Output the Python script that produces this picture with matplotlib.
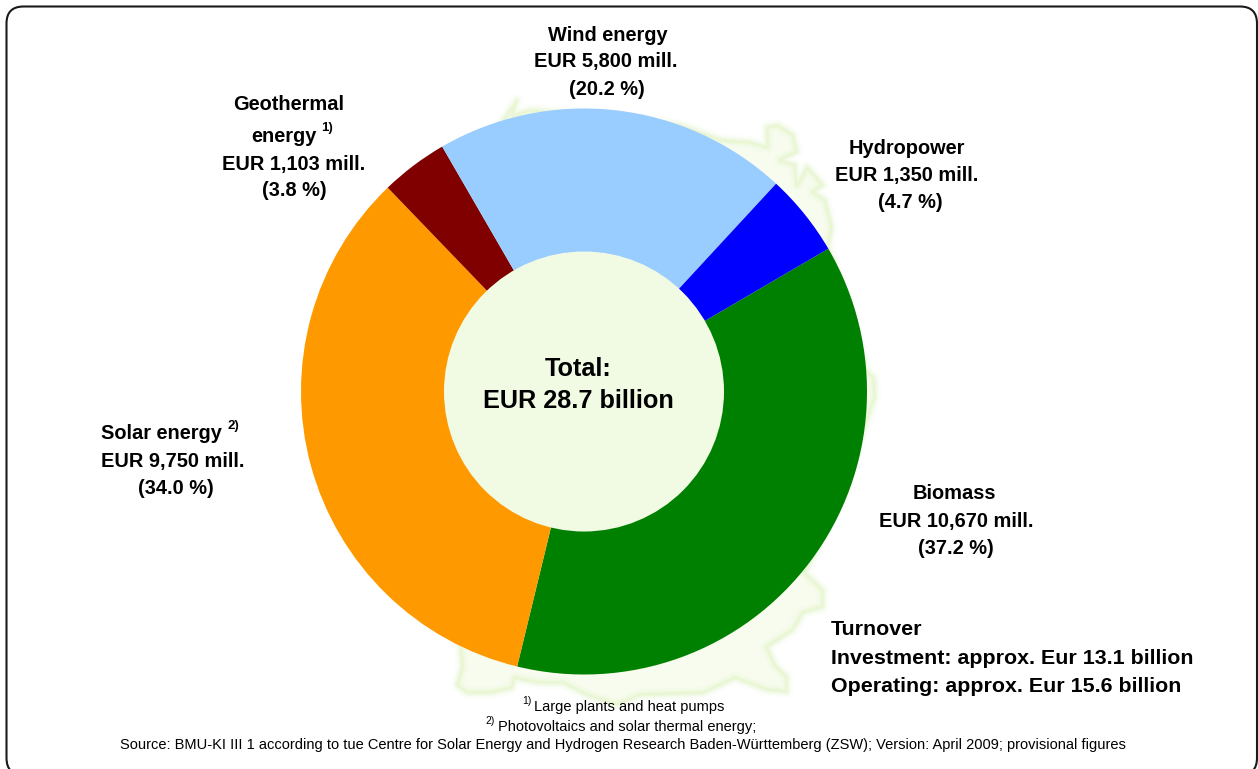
import numpy as np
import matplotlib
matplotlib.use("Agg")
import matplotlib.pyplot as plt
from matplotlib.patches import FancyBboxPatch, Polygon, Circle

plt.rcParams['font.family'] = ['Liberation Sans', 'DejaVu Sans']

W, H = 1258, 769

# turnover by source, EUR mill., clockwise from the biomass slice
sources = ["Biomass", "Solar energy", "Geothermal energy", "Wind energy", "Hydropower"]
turnover = [10670, 9750, 1103, 5800, 1350]
colors = ["#008000", "#FF9900", "#800000", "#99CCFF", "#0000FF"]

percent_text = ["37.2", "34.0", "3.8", "20.2", "4.7"]
amount_text = ["10,670", "9,750", "1,103", "5,800", "1,350"]

total_lines = ["Total:", "EUR 28.7 billion"]
split_lines = ["Turnover",
               "Investment: approx. Eur 13.1 billion",
               "Operating: approx. Eur 15.6 billion"]
note_1 = "Large plants and heat pumps"
note_2 = "Photovoltaics and solar thermal energy;"
source_line = ("Source: BMU-KI III 1 according to tue Centre for Solar Energy and Hydrogen "
               "Research Baden-Württemberg (ZSW); Version: April 2009; provisional figures")

# rough outline of Germany behind the ring
map_outline = [(517, 100), (513, 115), (530, 110), (600, 115), (680, 125), (722, 140), (750, 142),
               (767, 147), (767, 127), (778, 125), (793, 135), (797, 152), (780, 160),
               (795, 165), (797, 185), (807, 167), (823, 185), (813, 192), (825, 200),
               (832, 227), (828, 247), (850, 310), (866, 370), (874, 378), (875, 397), (866, 423),
               (840, 500), (805, 573), (823, 590), (823, 607), (803, 613), (793, 630),
               (767, 647), (775, 665), (787, 677), (787, 692), (767, 690), (735, 678),
               (703, 693), (640, 695), (617, 705), (587, 695), (563, 683), (540, 683),
               (523, 680), (515, 678), (512, 688), (490, 693), (467, 693), (457, 685),
               (462, 667), (460, 645), (400, 560), (340, 400), (385, 205), (500, 125)]

cx, cy, radius, hole = 584, 391.5, 283, 140

fig = plt.figure(figsize=(W / 100, H / 100), dpi=100)

# page layer in pixel units: frame and map
bg = fig.add_axes([0, 0, 1, 1])
bg.set_xlim(0, W)
bg.set_ylim(H, 0)
bg.axis("off")

bg.add_patch(FancyBboxPatch((6.5 + 17, 6.5 + 17), 1257 - 6.5 - 34, 775 - 6.5 - 34,
                            boxstyle="round,pad=17,rounding_size=17",
                            fc="white", ec="#1a1a1a", lw=1.5, zorder=0))

bg.add_patch(Polygon(map_outline, closed=True, fc="#F7FCEE", ec="none", zorder=1))
for lw, alpha in [(9, 0.05), (6, 0.08), (4, 0.12), (2, 0.2)]:
    bg.add_patch(Polygon(map_outline, closed=True, fc="none", ec="#D2EFA8",
                         lw=lw, alpha=alpha, joinstyle="round", zorder=1))

# the ring
ax = fig.add_axes([(cx - radius) / W, 1 - (cy + radius) / H, 2 * radius / W, 2 * radius / H])
ax.patch.set_alpha(0)
ax.pie(turnover, colors=colors, startangle=30.3, counterclock=False, radius=1,
       wedgeprops=dict(lw=0))
ax.add_patch(Circle((0, 0), hole / radius, fc="#F1FAE3", ec="none", zorder=5))
ax.set_xlim(-1, 1)
ax.set_ylim(-1, 1)
ax.set_aspect("equal")

# text layer on top of everything, same pixel units
top = fig.add_axes([0, 0, 1, 1])
top.set_xlim(0, W)
top.set_ylim(H, 0)
top.axis("off")


def label(x, y, s, size=14.4, weight="bold", ha="center"):
    top.text(x, y + 1.5, s, fontsize=size, fontweight=weight, ha=ha, va="center", color="black")


# slice labels
label(607.5, 34, sources[3])
label(605.5, 60, "EUR %s mill." % amount_text[3])
label(607, 88, "(%s %%)" % percent_text[3])

label(289, 103, "Geothermal")
label(284, 135, "energy")
label(327, 126, "1)", size=9.5)
label(294, 163, "EUR %s mill." % amount_text[2])
label(294, 189, "(%s %%)" % percent_text[2])

label(907, 147, sources[4])
label(907, 174, "EUR %s mill." % amount_text[4])
label(910, 201, "(%s %%)" % percent_text[4])

label(161, 432, sources[1])
label(233, 425, "2)", size=9.5)
label(173, 460, "EUR %s mill." % amount_text[1])
label(176, 487, "(%s %%)" % percent_text[1])

label(954, 492, sources[0])
label(956, 520, "EUR %s mill." % amount_text[0])
label(956, 547, "(%s %%)" % percent_text[0])

# centre of the ring
label(578.5, 367, total_lines[0], size=18.2)
label(578.5, 400, total_lines[1], size=18.2)

# investment / operating split
for y, line in zip([628, 657, 685], split_lines):
    label(831, y, line, size=15.4, ha="left")

# footnotes
label(527, 699, "1)", size=7.5, weight="normal")
label(629.5, 705, note_1, size=10.5, weight="normal")
label(490, 720, "2)", size=7.5, weight="normal")
label(627, 725, note_2, size=10.5, weight="normal")
label(622.5, 744, source_line, size=10.55, weight="normal")

fig.savefig("out.png", dpi=100)
